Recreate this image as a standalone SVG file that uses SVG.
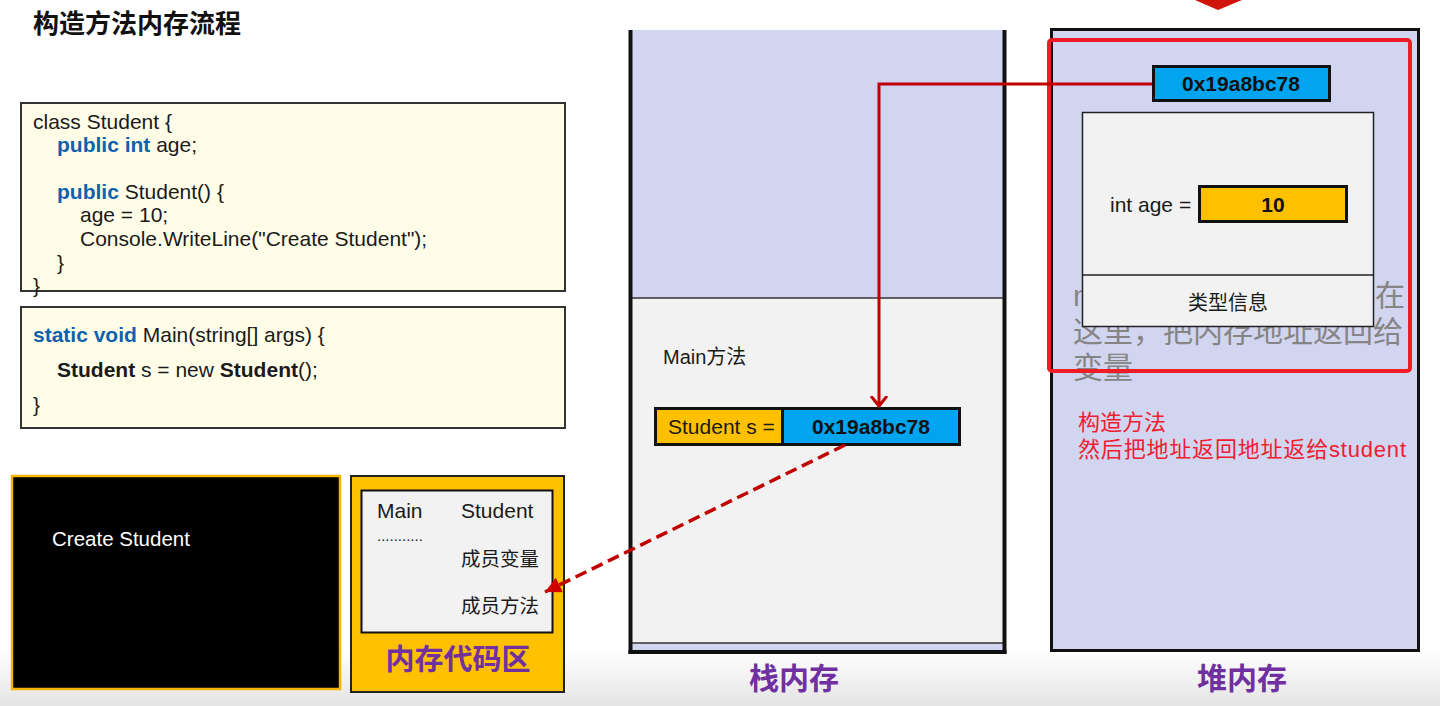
<svg xmlns="http://www.w3.org/2000/svg" width="1440" height="706" viewBox="0 0 1440 706">
<style>
text{font-family:"Liberation Sans","Noto Sans CJK SC",sans-serif;}
.code{font-size:21px;fill:#1a1a1a;}
.kw{font-weight:bold;fill:#0e62ad;}
.b{font-weight:bold;}
.cjk{font-family:"Noto Sans CJK SC","Liberation Sans",sans-serif;}
.lbl{font-family:"Noto Sans CJK SC",sans-serif;font-weight:bold;font-size:30px;fill:#7030a0;text-anchor:middle;}
.codebox{fill:#fffde8;stroke:#333;stroke-width:2;}
.lav{fill:#d2d5f0;}
.gray{fill:#f2f2f2;}
.cell{stroke:#111;stroke-width:3;}
.conn{fill:none;stroke:#c00000;}
</style>
<defs>
<linearGradient id="bg" x1="0" y1="0" x2="0" y2="1">
<stop offset="0" stop-color="#ffffff"/>
<stop offset="1" stop-color="#e4e4e4"/>
</linearGradient>
<marker id="chev" markerWidth="20" markerHeight="20" refX="10" refY="10" orient="auto" markerUnits="userSpaceOnUse">
<path d="M0,2 L10,10 L0,18" fill="none" stroke="#c00000" stroke-width="3"/>
</marker>
<marker id="tri" markerWidth="20" markerHeight="20" refX="16" refY="8" orient="auto" markerUnits="userSpaceOnUse">
<path d="M0,0 L16,8 L0,16 Z" fill="#d00000"/>
</marker>
</defs>
<rect x="0" y="0" width="1440" height="706" fill="#ffffff"/>
<rect x="0" y="650" width="1440" height="56" fill="url(#bg)"/>

<text x="33" y="33" class="cjk" style="font-size:26px;font-weight:bold;fill:#111">构造方法内存流程</text>
<polygon points="1195,0 1242,0 1218,10" fill="#d0140c"/>

<g id="code-class">
<rect x="21" y="103" width="544" height="188" class="codebox"/>
<text class="code" x="33" y="129">class Student {</text>
<text class="code" x="57" y="152"><tspan class="kw">public int</tspan> age;</text>
<text class="code" x="57" y="199"><tspan class="kw">public</tspan> Student() {</text>
<text class="code" x="80" y="222">age = 10;</text>
<text class="code" x="80" y="246">Console.WriteLine("Create Student");</text>
<text class="code" x="57" y="270">}</text>
<text class="code" x="33" y="293">}</text>
</g>

<g id="code-main">
<rect x="21" y="307" width="544" height="121" class="codebox"/>
<text class="code" x="33" y="342"><tspan class="kw">static void</tspan> Main(string[] args) {</text>
<text class="code" x="57" y="377"><tspan class="b">Student</tspan> s = new <tspan class="b">Student</tspan>();</text>
<text class="code" x="33" y="412">}</text>
</g>

<g id="console">
<rect x="12" y="476" width="328" height="213" fill="#000" stroke="#f5b400" stroke-width="2.5"/>
<text x="52" y="546" style="font-size:20.5px;fill:#fff">Create Student</text>
</g>

<g id="code-area">
<rect x="351" y="476" width="213" height="216" fill="#ffc000" stroke="#222" stroke-width="2"/>
<rect x="361.5" y="490.5" width="191" height="142" fill="#f2f2f2" stroke="#111" stroke-width="2"/>
<text x="377" y="518" style="font-size:21px;fill:#1a1a1a">Main</text>
<text x="461" y="518" style="font-size:21px;fill:#1a1a1a">Student</text>
<text x="377" y="541" style="font-size:15px;fill:#1a1a1a">...........</text>
<text x="461" y="566" class="cjk" style="font-size:19.5px;fill:#1a1a1a">成员变量</text>
<text x="461" y="613" class="cjk" style="font-size:19.5px;fill:#1a1a1a">成员方法</text>
<text x="458" y="670" class="lbl" style="font-size:29px">内存代码区</text>
</g>

<g id="stack">
<rect x="632" y="30" width="372" height="268" class="lav"/>
<rect x="632" y="298" width="372" height="345" class="gray"/>
<rect x="632" y="643" width="372" height="7" class="lav"/>
<line x1="632" y1="298" x2="1004" y2="298" stroke="#333" stroke-width="1.5"/>
<line x1="632" y1="643" x2="1004" y2="643" stroke="#333" stroke-width="1.5"/>
<line x1="630.5" y1="30" x2="630.5" y2="654" stroke="#111" stroke-width="4"/>
<line x1="1004.5" y1="30" x2="1004.5" y2="654" stroke="#111" stroke-width="4"/>
<line x1="628.5" y1="652" x2="1006.5" y2="652" stroke="#111" stroke-width="4"/>
<text x="663" y="364" style="font-size:20px;fill:#1a1a1a">Main方法</text>
<text x="794" y="689" class="lbl">栈内存</text>
</g>

<g id="stack-var">
<rect x="655.5" y="408.5" width="127" height="36" fill="#ffc000" class="cell"/>
<rect x="782.5" y="408.5" width="177" height="36" fill="#00a4ef" class="cell"/>
<text x="668" y="434" style="font-size:21px;fill:#1a1a1a">Student s =</text>
<text x="871" y="434" class="b" style="font-size:21px;fill:#111;text-anchor:middle">0x19a8bc78</text>
</g>

<g id="heap">
<rect x="1051.5" y="29.5" width="367" height="621" class="lav" stroke="#111" stroke-width="3"/>
<text x="1073" y="306" style="font-size:30px;fill:#858585">n</text>
<text x="1375" y="306" class="cjk" style="font-size:30px;fill:#858585">在</text>
<text x="1073" y="342" class="cjk" style="font-size:30px;fill:#858585">这里，把内存地址返回给</text>
<text x="1073" y="378" class="cjk" style="font-size:30px;fill:#858585">变量</text>
<text x="1078" y="430" style="font-size:22px;fill:#ee2030">构造方法</text>
<text x="1078" y="457" style="font-size:22px;fill:#ee2030" textLength="328" lengthAdjust="spacing">然后把地址返回地址返给student</text>
<text x="1242" y="689" class="lbl">堆内存</text>
</g>

<g id="heap-object">
<rect x="1082.5" y="112.5" width="291" height="214" fill="#f2f2f2" stroke="#222" stroke-width="1.5"/>
<line x1="1082.5" y1="275" x2="1373.5" y2="275" stroke="#222" stroke-width="1.5"/>
<text x="1110" y="212" style="font-size:21px;fill:#1a1a1a">int age =</text>
<rect x="1199.5" y="186.5" width="147" height="35" fill="#ffc000" class="cell"/>
<text x="1273" y="212" class="b" style="font-size:21px;fill:#111;text-anchor:middle">10</text>
<text x="1228" y="310" class="cjk" style="font-size:20px;fill:#1a1a1a;text-anchor:middle">类型信息</text>
</g>

<g id="heap-address">
<rect x="1153.5" y="66.5" width="176" height="34" fill="#00a4ef" class="cell"/>
<text x="1241" y="91" class="b" style="font-size:21px;fill:#111;text-anchor:middle">0x19a8bc78</text>
</g>

<g id="highlight">
<rect x="1049" y="40" width="361" height="331" rx="3" fill="none" stroke="#ee1c25" stroke-width="4"/>
</g>

<g id="connectors">
<path d="M1152,84 H879 V406" class="conn" stroke-width="3" marker-end="url(#chev)"/>
<path d="M845,445 L545,592" class="conn" stroke-width="3.5" stroke-dasharray="12,6" marker-end="url(#tri)"/>
</g>
</svg>
